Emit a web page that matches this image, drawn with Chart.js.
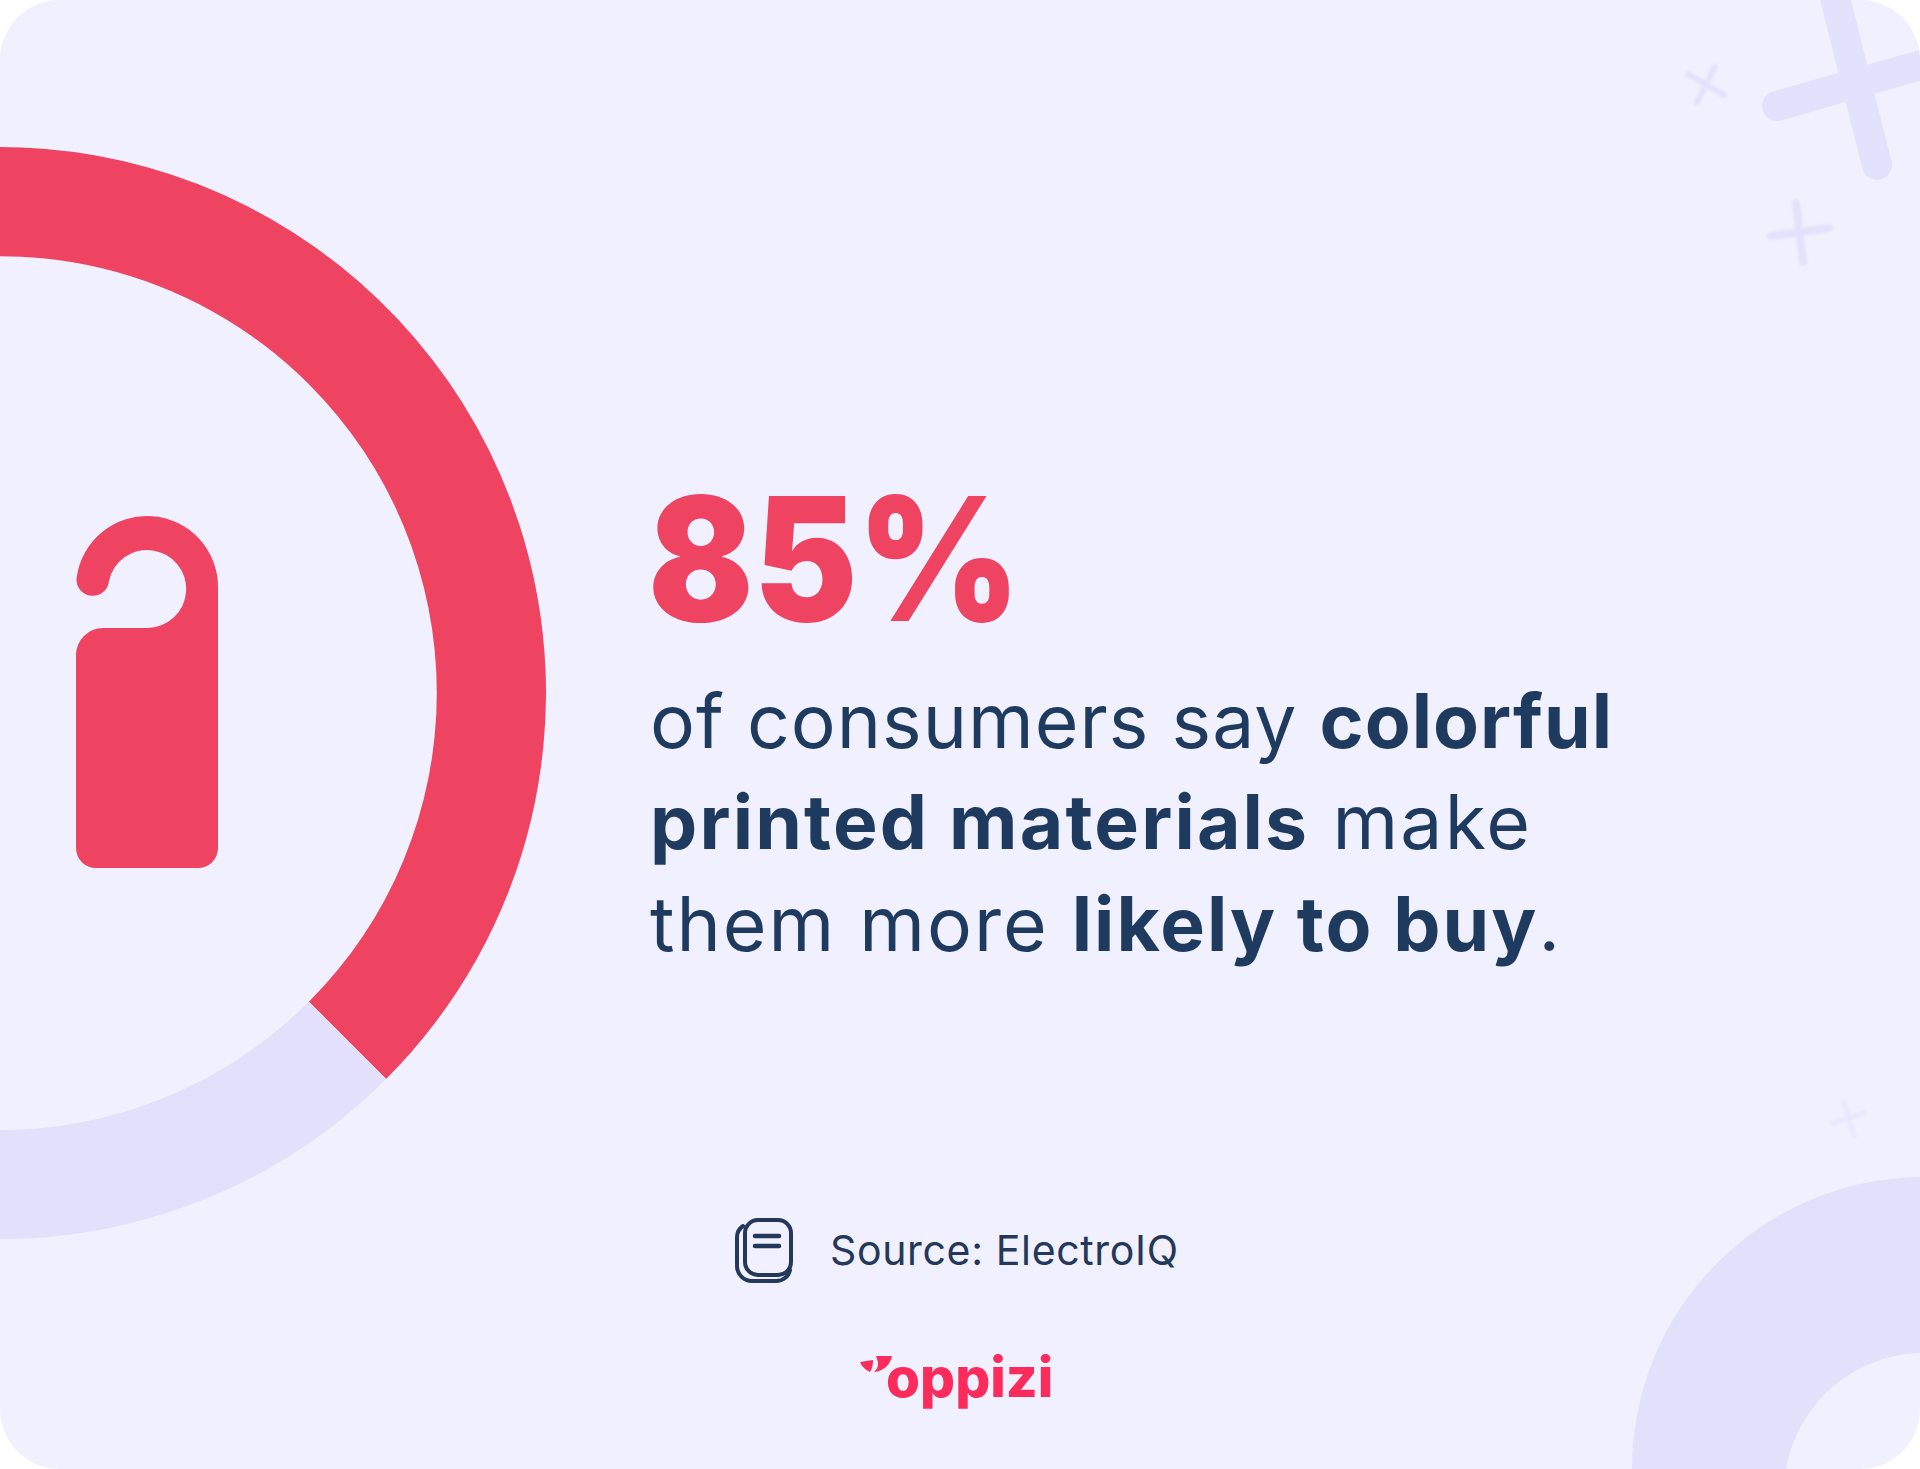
<!DOCTYPE html>
<html>
<head>
<meta charset="utf-8">
<title>85% of consumers</title>
<script src="https://cdn.jsdelivr.net/npm/chart.js@4"></script>
<style>
  html, body { margin: 0; background: #fff; }
  .card { position: relative; width: 1920px; height: 1469px; background: #f1f0fe; border-radius: 60px; overflow: hidden; }
  .ring { position: absolute; left: -546px; top: 147px; width: 1092px; height: 1092px; }
  .art { position: absolute; left: 0; top: 0; }
  .big { font: 900 172px Inter, sans-serif; fill: #ee4462; }
  .line { font: 400 75px Inter, sans-serif; fill: #1f3a5f; }
  .line .b { font-weight: 700; }
  .src { font: 400 41px Inter, sans-serif; fill: #24385a; }
  .logo { font: 800 55px Inter, sans-serif; fill: #fb2c5b; }
  .soft { filter: blur(0.8px); }
</style>
</head>
<body>
<div class="card">
  <svg class="art" width="1920" height="1469" viewBox="0 0 1920 1469">
    <!-- background crosses -->
    <g fill="none" stroke="#e2e2fd" stroke-linecap="round">
      <path stroke-width="30" d="M1877 165L1833 -10M1777 106L1935 61"/>
      <g class="soft">
        <path stroke-width="6" d="M1688 74L1724 95M1715 67L1697 102"/>
        <path stroke-width="8" d="M1796 203L1803 262M1771 236L1829 228"/>
        <path stroke-width="5" stroke="#e8e7fd" d="M1844 1103L1854 1135M1833 1123L1864 1113"/>
      </g>
    </g>
    <path fill="#e1e1fc" fill-rule="evenodd" d="M1632 1469A292 292 0 0 1 1924 1177V1469ZM1786 1469A140 140 0 0 1 1924 1353V1469Z"/>

    <!-- door hanger -->
    <path fill="#ee4462" d="M218 589A71 71 0 0 0 76.6 578A16 16 0 0 0 109 581A39 39 0 1 1 147 628H103A27 27 0 0 0 76 655V848A20 20 0 0 0 96 868H198A20 20 0 0 0 218 848Z"/>

    <text class="big" x="648" y="621" textLength="372" lengthAdjust="spacingAndGlyphs">85%</text>
    <text class="line" x="650" y="748" textLength="962">of consumers say <tspan class="b">colorful</tspan></text>
    <text class="line" x="650" y="849" textLength="880"><tspan class="b">printed materials</tspan> make</text>
    <text class="line" x="650" y="951" textLength="910">them more <tspan class="b">likely to buy</tspan>.</text>

    <!-- source icon -->
    <g fill="none" stroke="#24385a" stroke-width="4" stroke-linecap="round">
      <rect x="745" y="1220" width="46" height="55" rx="13"/>
      <path d="M743 1226A14 14 0 0 0 737 1238V1266A15 15 0 0 0 752 1281H776A14 14 0 0 0 790 1270"/>
      <path d="M755 1236H779M755 1246H779" stroke-width="4.5"/>
    </g>
    <text class="src" x="830" y="1265" textLength="348">Source: ElectroIQ</text>

    <!-- logo -->
    <path fill="#fb2c5b" d="M876 1356H892C890 1365 884 1371 874 1372C880 1367 878 1361 876 1356ZM860 1362L873 1360C873 1365 872 1369 870 1372C866 1370 862 1367 860 1362Z"/>
    <text class="logo" x="886" y="1397">oppizi</text>
  </svg>
  <canvas id="ring" class="ring" width="1092" height="1092"></canvas>
</div>
<script>
const categories = ["Say colorful print makes them more likely to buy", "Others"];
const shares = [85, 15];
const sliceColors = ["#ee4462", "#e2e0fa"];

new Chart(document.getElementById("ring"), {
  type: "doughnut",
  data: {
    labels: categories,
    datasets: [
      {
        data: shares,
        backgroundColor: sliceColors,
        borderWidth: 0,
      },
    ],
  },
  options: {
    responsive: false,
    animation: false,
    rotation: -171,
    cutout: "80%",
    plugins: {
      legend: { display: false },
      tooltip: { enabled: false },
    },
  },
});
</script>
</body>
</html>
